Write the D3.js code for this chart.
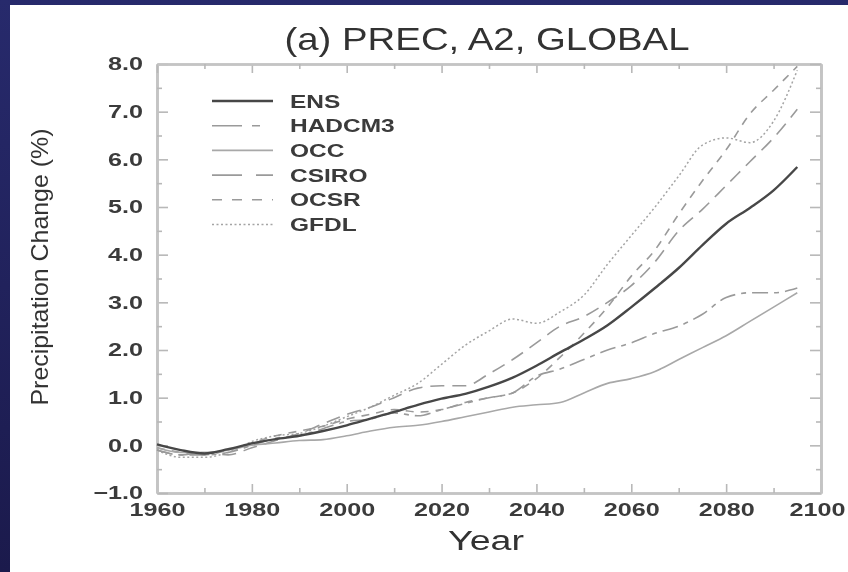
<!DOCTYPE html>
<html>
<head>
<meta charset="utf-8">
<script src="https://cdn.jsdelivr.net/npm/d3@7"></script>
<style>
  html, body { margin: 0; padding: 0; background: #22226a; }
  svg { display: block; }
  text { font-family: "Liberation Sans", Arial, sans-serif; }
</style>
</head>
<body>
<div id="chart"></div>
<script>
// data (percent change vs 1960)
const years = [1960, 1965, 1970, 1975, 1980, 1985, 1990, 1995, 2000, 2005, 2010, 2015, 2020, 2025,
  2030, 2035, 2040, 2045, 2050, 2055, 2060, 2065, 2070, 2075, 2080, 2085, 2090, 2095];

const ens = [0.02, -0.1, -0.17, -0.08, 0.04, 0.13, 0.2, 0.3, 0.42, 0.56, 0.7, 0.85, 0.98, 1.08,
  1.23, 1.42, 1.67, 1.95, 2.22, 2.52, 2.9, 3.3, 3.72, 4.2, 4.65, 4.98, 5.35, 5.84];
const hadcm3 = [-0.1, -0.2, -0.2, -0.15, 0.0, 0.15, 0.2, 0.35, 0.5, 0.55, 0.68, 0.62, 0.75, 0.88,
  1.0, 1.1, 1.45, 1.6, 1.8, 2.0, 2.15, 2.35, 2.5, 2.75, 3.1, 3.2, 3.2, 3.3];
const occ = [-0.05, -0.15, -0.15, -0.1, 0.0, 0.05, 0.1, 0.12, 0.2, 0.3, 0.38, 0.42, 0.5, 0.6,
  0.7, 0.8, 0.85, 0.9, 1.1, 1.3, 1.4, 1.55, 1.8, 2.05, 2.3, 2.6, 2.9, 3.2];
const csiro = [-0.1, -0.2, -0.15, -0.2, -0.05, 0.1, 0.25, 0.45, 0.65, 0.8, 1.0, 1.2, 1.25, 1.25,
  1.5, 1.8, 2.15, 2.5, 2.7, 3.0, 3.35, 3.85, 4.5, 4.95, 5.45, 5.95, 6.45, 7.05];
const ocsr = [-0.05, -0.15, -0.2, -0.1, 0.05, 0.2, 0.3, 0.4, 0.55, 0.65, 0.75, 0.7, 0.75, 0.9,
  1.0, 1.1, 1.4, 1.85, 2.35, 2.9, 3.55, 4.1, 4.85, 5.55, 6.2, 6.95, 7.45, 7.95];
const gfdl = [-0.1, -0.25, -0.25, -0.15, 0.08, 0.2, 0.25, 0.4, 0.6, 0.8, 1.05, 1.3, 1.7, 2.1,
  2.4, 2.65, 2.56, 2.8, 3.15, 3.8, 4.4, 5.0, 5.65, 6.3, 6.45, 6.35, 6.8, 7.87];

const seriesNames = ["ENS", "HADCM3", "OCC", "CSIRO", "OCSR", "GFDL"];
const seriesValues = [ens, hadcm3, occ, csiro, ocsr, gfdl];

const xMajorTicks = [1960, 1980, 2000, 2020, 2040, 2060, 2080, 2100];
const xMinorTicks = [1970, 1990, 2010, 2030, 2050, 2070, 2090];
const yMajorTicks = [-1, 0, 1, 2, 3, 4, 5, 6, 7, 8];
const yMinorTicks = [-0.5, 0.5, 1.5, 2.5, 3.5, 4.5, 5.5, 6.5, 7.5];

// line looks per series
const styles = {
  ENS:    { color: "#474747", width: 2.4, dash: null },
  HADCM3: { color: "#9a9a9a", width: 1.6, dash: "16,6,5,6" },
  OCC:    { color: "#a8a8a8", width: 1.6, dash: null },
  CSIRO:  { color: "#9a9a9a", width: 1.6, dash: "14,8" },
  OCSR:   { color: "#9a9a9a", width: 1.6, dash: "8,7" },
  GFDL:   { color: "#a4a4a4", width: 1.5, dash: "2,2.5" }
};

const W = 848, H = 572;
const margin = { top: 64, right: 27, bottom: 79, left: 157 };
const innerW = W - margin.left - margin.right;
const innerH = H - margin.top - margin.bottom;
const stretch = 1.4;

const svg = d3.select("#chart").append("svg")
  .attr("width", W)
  .attr("height", H);

const defs = svg.append("defs");
const grad = defs.append("linearGradient")
  .attr("id", "navy").attr("x1", 0).attr("y1", 0).attr("x2", 0).attr("y2", 1);
grad.append("stop").attr("offset", "0%").attr("stop-color", "#272a6c");
grad.append("stop").attr("offset", "100%").attr("stop-color", "#1b1a4c");
defs.append("filter").attr("id", "soft")
  .append("feGaussianBlur").attr("stdDeviation", 0.45);

svg.append("rect").attr("width", W).attr("height", H).attr("fill", "url(#navy)");
svg.append("rect").attr("x", 10).attr("y", 5).attr("width", W - 10).attr("height", H - 5)
  .attr("fill", "#ffffff");

const x = d3.scaleLinear().domain([1960, 2100]).range([0, innerW]);
const y = d3.scaleLinear().domain([-1, 8]).range([innerH, 0]);

const root = svg.append("g").attr("filter", "url(#soft)");
const g = root.append("g")
  .attr("transform", `translate(${margin.left},${margin.top})`);

// axes with inward ticks on all four sides
function styleAxis(sel) {
  sel.select(".domain").attr("stroke", "#c4c4c4").attr("stroke-width", 2.6);
  sel.selectAll(".tick line").attr("stroke", "#b8b8b8").attr("stroke-width", 1.6);
}

const fmt = d => (d < 0 ? "\u2212" : "") + Math.abs(d).toFixed(1);

const bottom = g.append("g").attr("transform", `translate(0,${innerH})`)
  .call(d3.axisBottom(x).tickValues(xMajorTicks).tickSizeInner(-9).tickSizeOuter(0)
    .tickPadding(10).tickFormat(d3.format("d")));
g.append("g").attr("transform", `translate(0,${innerH})`)
  .call(d3.axisBottom(x).tickValues(xMinorTicks).tickSizeInner(-5).tickSizeOuter(0).tickFormat(""))
  .call(styleAxis);
const left = g.append("g")
  .call(d3.axisLeft(y).tickValues(yMajorTicks).tickSizeInner(-11).tickSizeOuter(0)
    .tickPadding(13).tickFormat(fmt));
g.append("g")
  .call(d3.axisLeft(y).tickValues(yMinorTicks).tickSizeInner(-5).tickSizeOuter(0).tickFormat(""))
  .call(styleAxis);
g.append("g")
  .call(d3.axisTop(x).tickValues(xMajorTicks).tickSizeInner(-9).tickSizeOuter(0).tickFormat(""))
  .call(styleAxis);
g.append("g")
  .call(d3.axisTop(x).tickValues(xMinorTicks).tickSizeInner(-5).tickSizeOuter(0).tickFormat(""))
  .call(styleAxis);
g.append("g").attr("transform", `translate(${innerW},0)`)
  .call(d3.axisRight(y).tickValues(yMajorTicks).tickSizeInner(-11).tickSizeOuter(0).tickFormat(""))
  .call(styleAxis);
g.append("g").attr("transform", `translate(${innerW},0)`)
  .call(d3.axisRight(y).tickValues(yMinorTicks).tickSizeInner(-5).tickSizeOuter(0).tickFormat(""))
  .call(styleAxis);

[bottom, left].forEach(ax => {
  ax.call(styleAxis);
  ax.selectAll("text")
    .attr("font-size", 18)
    .attr("font-weight", "bold")
    .attr("fill", "#3a3a3a")
    .attr("font-family", "Liberation Sans, Arial, sans-serif");
});
bottom.selectAll("text")
  .attr("transform", `scale(${stretch},1)`)
  .attr("x", d => d === 2100 ? -4 / stretch : 0);
left.selectAll("text")
  .attr("x", -14 / stretch)
  .attr("transform", `scale(${stretch},1)`);

// series lines
const line = d3.line()
  .x((d, i) => x(years[i]))
  .y(d => y(d))
  .curve(d3.curveMonotoneX);

const drawOrder = ["GFDL", "OCSR", "CSIRO", "OCC", "HADCM3", "ENS"];
drawOrder.forEach(name => {
  const s = styles[name];
  g.append("path")
    .datum(seriesValues[seriesNames.indexOf(name)])
    .attr("fill", "none")
    .attr("stroke", s.color)
    .attr("stroke-width", s.width)
    .attr("stroke-dasharray", s.dash)
    .attr("d", line);
});

// legend
const legend = g.append("g").attr("transform", "translate(55,37)");
seriesNames.forEach((name, i) => {
  const s = styles[name];
  const row = legend.append("g").attr("transform", `translate(0,${i * 24.7})`);
  row.append("line")
    .attr("x1", 0).attr("x2", 61)
    .attr("stroke", s.color)
    .attr("stroke-width", s.width)
    .attr("stroke-dasharray", name === "HADCM3" ? "30,10,8,30" :
      name === "CSIRO" ? "30,14" : name === "OCSR" ? "10,10" : s.dash);
  row.append("text")
    .attr("x", 78 / 1.36).attr("y", 6.5)
    .attr("transform", "scale(1.36,1)")
    .attr("font-size", 18)
    .attr("font-weight", "bold")
    .attr("fill", "#3a3a3a")
    .text(name);
});

// titles
root.append("text")
  .attr("x", 487).attr("y", 50)
  .attr("text-anchor", "middle")
  .attr("font-size", 32)
  .attr("fill", "#333")
  .attr("textLength", 405)
  .attr("lengthAdjust", "spacingAndGlyphs")
  .text("(a) PREC, A2, GLOBAL");

root.append("text")
  .attr("transform", "translate(48,267) rotate(-90)")
  .attr("text-anchor", "middle")
  .attr("font-size", 24)
  .attr("fill", "#333")
  .attr("textLength", 277)
  .attr("lengthAdjust", "spacingAndGlyphs")
  .text("Precipitation Change (%)");

root.append("text")
  .attr("x", 486).attr("y", 550)
  .attr("text-anchor", "middle")
  .attr("font-size", 27)
  .attr("fill", "#333")
  .attr("textLength", 76)
  .attr("lengthAdjust", "spacingAndGlyphs")
  .text("Year");
</script>
</body>
</html>
